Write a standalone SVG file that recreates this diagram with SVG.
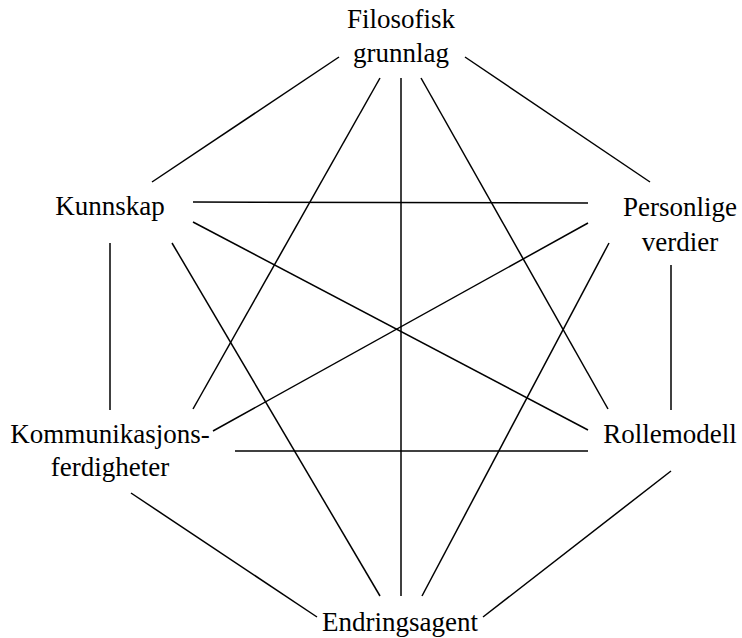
<svg xmlns="http://www.w3.org/2000/svg" width="742" height="638" viewBox="0 0 742 638">
  <style>
    .lbl { font-family: "Liberation Serif", "Times New Roman", serif; font-size: 27px; fill: #000; text-anchor: middle; }
    .edge { stroke: #000; stroke-width: 1.5; fill: none; stroke-linecap: butt; }
  </style>
  <rect width="742" height="638" fill="#fff"/>
  <g id="connectors">
    <!-- outer hexagon -->
    <line class="edge" x1="339" y1="57" x2="152" y2="182"/>
    <line class="edge" x1="465" y1="57" x2="650" y2="182"/>
    <line class="edge" x1="110" y1="243" x2="110" y2="410"/>
    <line class="edge" x1="671" y1="265" x2="671" y2="410"/>
    <line class="edge" x1="131" y1="493" x2="317" y2="617"/>
    <line class="edge" x1="671" y1="471" x2="483" y2="617"/>
    <!-- from Filosofisk grunnlag -->
    <line class="edge" x1="380" y1="78" x2="193" y2="409"/>
    <line class="edge" x1="401" y1="78" x2="401" y2="596"/>
    <line class="edge" x1="421" y1="78" x2="608" y2="409"/>
    <!-- from Kunnskap -->
    <line class="edge" x1="193" y1="202" x2="588" y2="203"/>
    <line class="edge" x1="193" y1="222" x2="588" y2="430"/>
    <line class="edge" x1="172" y1="243" x2="380" y2="596"/>
    <!-- from Personlige verdier -->
    <line class="edge" x1="588" y1="223" x2="213" y2="431"/>
    <line class="edge" x1="609" y1="243" x2="422" y2="596"/>
    <!-- Kommunikasjonsferdigheter to Rollemodell -->
    <line class="edge" x1="235" y1="451" x2="588" y2="451"/>
  </g>
  <g id="filosofisk">
    <text class="lbl" x="401" y="28">Filosofisk</text>
    <text class="lbl" x="401" y="62">grunnlag</text>
  </g>
  <g id="kunnskap">
    <text class="lbl" x="110" y="215">Kunnskap</text>
  </g>
  <g id="personlige">
    <text class="lbl" x="680" y="216">Personlige</text>
    <text class="lbl" x="680" y="251">verdier</text>
  </g>
  <g id="kommunikasjon">
    <text class="lbl" x="110" y="443">Kommunikasjons-</text>
    <text class="lbl" x="110" y="476">ferdigheter</text>
  </g>
  <g id="rollemodell">
    <text class="lbl" x="670" y="443">Rollemodell</text>
  </g>
  <g id="endringsagent">
    <text class="lbl" x="400" y="631">Endringsagent</text>
  </g>
</svg>
